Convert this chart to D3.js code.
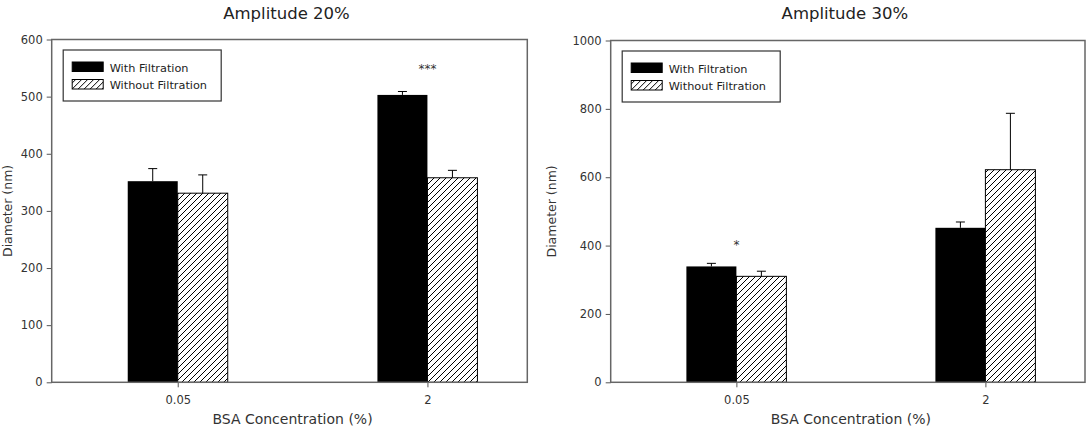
<!DOCTYPE html>
<html>
<head>
<meta charset="utf-8">
<script src="https://cdn.jsdelivr.net/npm/d3@7"></script>
<style>
  body { margin: 0; background: #fff; }
  text { font-family: "DejaVu Sans", sans-serif; }
</style>
</head>
<body>
<script>
// data
var categories = ["0.05", "2"];
var seriesNames = ["With Filtration", "Without Filtration"];

var amp20With = [352, 503];
var amp20WithErr = [22, 6];
var amp20Without = [331, 358];
var amp20WithoutErr = [32, 13];
var amp20Ticks = [0, 100, 200, 300, 400, 500, 600];
var amp20Sig = ["", "***"];
var amp20SigAt = [0, 553];

var amp30With = [339, 452];
var amp30WithErr = [9, 17];
var amp30Without = [310, 622];
var amp30WithoutErr = [15, 165];
var amp30Ticks = [0, 200, 400, 600, 800, 1000];
var amp30Sig = ["*", ""];
var amp30SigAt = [411, 0];

var W = 1092, H = 426;
var svg = d3.select("body").append("svg").attr("width", W).attr("height", H);

svg.append("defs").append("pattern")
    .attr("id", "hatch")
    .attr("patternUnits", "userSpaceOnUse")
    .attr("width", 6).attr("height", 6)
    .append("path")
    .attr("d", "M-1,1 l2,-2 M0,6 l6,-6 M5,7 l2,-2")
    .attr("stroke", "#000")
    .attr("stroke-width", 1);

function drawPanel(p) {
    var w = p.right - p.left;
    var g = svg.append("g");

    var x = d3.scalePoint()
        .domain(categories)
        .range([p.left + 0.265 * w, p.left + 0.79 * w]);
    var y = d3.scaleLinear()
        .domain([0, p.max])
        .range([p.bottom, p.top]);
    var bw = 50;

    var rows = categories.map(function(c, i) {
        return {cat: c, a: p.withVals[i], ae: p.withErr[i], b: p.withoutVals[i], be: p.withoutErr[i],
                sig: p.sig[i], sigAt: p.sigAt[i]};
    });

    // bars
    g.selectAll("rect.with").data(rows).enter().append("rect")
        .attr("x", function(d) {return x(d.cat) - bw;})
        .attr("y", function(d) {return y(d.a);})
        .attr("width", bw)
        .attr("height", function(d) {return y(0) - y(d.a);})
        .attr("fill", "#000");
    g.selectAll("rect.without").data(rows).enter().append("rect")
        .attr("x", function(d) {return x(d.cat);})
        .attr("y", function(d) {return y(d.b);})
        .attr("width", bw)
        .attr("height", function(d) {return y(0) - y(d.b);})
        .attr("fill", "url(#hatch)")
        .attr("stroke", "#000")
        .attr("stroke-width", 1);

    // error bars (upper only)
    var errs = [];
    rows.forEach(function(d) {
        errs.push({cx: x(d.cat) - bw / 2, v: d.a, e: d.ae});
        errs.push({cx: x(d.cat) + bw / 2, v: d.b, e: d.be});
    });
    g.selectAll("line.err").data(errs).enter().append("line")
        .attr("x1", function(d) {return d.cx;})
        .attr("x2", function(d) {return d.cx;})
        .attr("y1", function(d) {return y(d.v);})
        .attr("y2", function(d) {return y(d.v + d.e);})
        .attr("stroke", "#000");
    g.selectAll("line.cap").data(errs).enter().append("line")
        .attr("x1", function(d) {return d.cx - 4.5;})
        .attr("x2", function(d) {return d.cx + 4.5;})
        .attr("y1", function(d) {return y(d.v + d.e);})
        .attr("y2", function(d) {return y(d.v + d.e);})
        .attr("stroke", "#000");

    // significance marks
    g.selectAll("text.sig").data(rows.filter(function(d) {return d.sig;})).enter().append("text")
        .attr("x", function(d) {return x(d.cat);})
        .attr("y", function(d) {return y(d.sigAt) + 7;})
        .attr("text-anchor", "middle")
        .attr("font-size", 12)
        .attr("fill", "#333")
        .text(function(d) {return d.sig;});

    // axes
    var yAxis = g.append("g")
        .attr("transform", "translate(" + p.left + ",0)")
        .call(d3.axisLeft(y).tickValues(p.ticks).tickFormat(d3.format("d")).tickSize(5).tickPadding(4));
    var xAxis = g.append("g")
        .attr("transform", "translate(0," + p.bottom + ")")
        .call(d3.axisBottom(x).tickSize(5).tickPadding(9));
    [yAxis, xAxis].forEach(function(a) {
        a.select(".domain").remove();
        a.selectAll("line").attr("stroke", "#555");
        a.selectAll("text").attr("font-size", 11.5).attr("fill", "#333")
            .style("font-family", "DejaVu Sans, sans-serif");
    });

    // frame
    g.append("rect")
        .attr("x", p.left).attr("y", p.top)
        .attr("width", w).attr("height", p.bottom - p.top)
        .attr("fill", "none")
        .attr("stroke", "#666")
        .attr("stroke-width", 1.5);

    // legend
    var lg = g.append("g").attr("transform", "translate(" + (p.left + 11.5) + "," + (p.top + 10.5) + ")");
    lg.append("rect")
        .attr("width", 158).attr("height", 51)
        .attr("fill", "#fff").attr("stroke", "#333").attr("stroke-width", 1.2);
    lg.selectAll("rect.sw").data(seriesNames).enter().append("rect")
        .attr("x", 9)
        .attr("y", function(d, i) {return 12 + i * 17.5;})
        .attr("width", 31).attr("height", 9.5)
        .attr("fill", function(d, i) {return i === 0 ? "#000" : "url(#hatch)";})
        .attr("stroke", "#000").attr("stroke-width", 1);
    lg.selectAll("text").data(seriesNames).enter().append("text")
        .attr("x", 46.5)
        .attr("y", function(d, i) {return 21.5 + i * 17.5;})
        .attr("font-size", 11.3)
        .attr("fill", "#222")
        .text(function(d) {return d;});

    // titles
    g.append("text")
        .attr("x", (p.left + p.right) / 2 - 3)
        .attr("y", 19)
        .attr("text-anchor", "middle")
        .attr("font-size", 16.5)
        .attr("fill", "#222")
        .text(p.title);
    g.append("text")
        .attr("x", (p.left + p.right) / 2 + 3)
        .attr("y", 424)
        .attr("text-anchor", "middle")
        .attr("font-size", 14)
        .attr("fill", "#333")
        .text("BSA Concentration (%)");
    g.append("text")
        .attr("transform", "translate(" + p.yTitleX + "," + ((p.top + p.bottom) / 2) + ") rotate(-90)")
        .attr("text-anchor", "middle")
        .attr("font-size", 12.5)
        .attr("fill", "#333")
        .text("Diameter (nm)");
}

drawPanel({
    title: "Amplitude 20%",
    left: 51.7, right: 527.3, top: 39.5, bottom: 382.3,
    max: 600, ticks: amp20Ticks, yTitleX: 12,
    withVals: amp20With, withErr: amp20WithErr,
    withoutVals: amp20Without, withoutErr: amp20WithoutErr,
    sig: amp20Sig, sigAt: amp20SigAt
});

drawPanel({
    title: "Amplitude 30%",
    left: 610.7, right: 1085, top: 40.5, bottom: 382.3,
    max: 1000, ticks: amp30Ticks, yTitleX: 556,
    withVals: amp30With, withErr: amp30WithErr,
    withoutVals: amp30Without, withoutErr: amp30WithoutErr,
    sig: amp30Sig, sigAt: amp30SigAt
});
</script>
</body>
</html>
